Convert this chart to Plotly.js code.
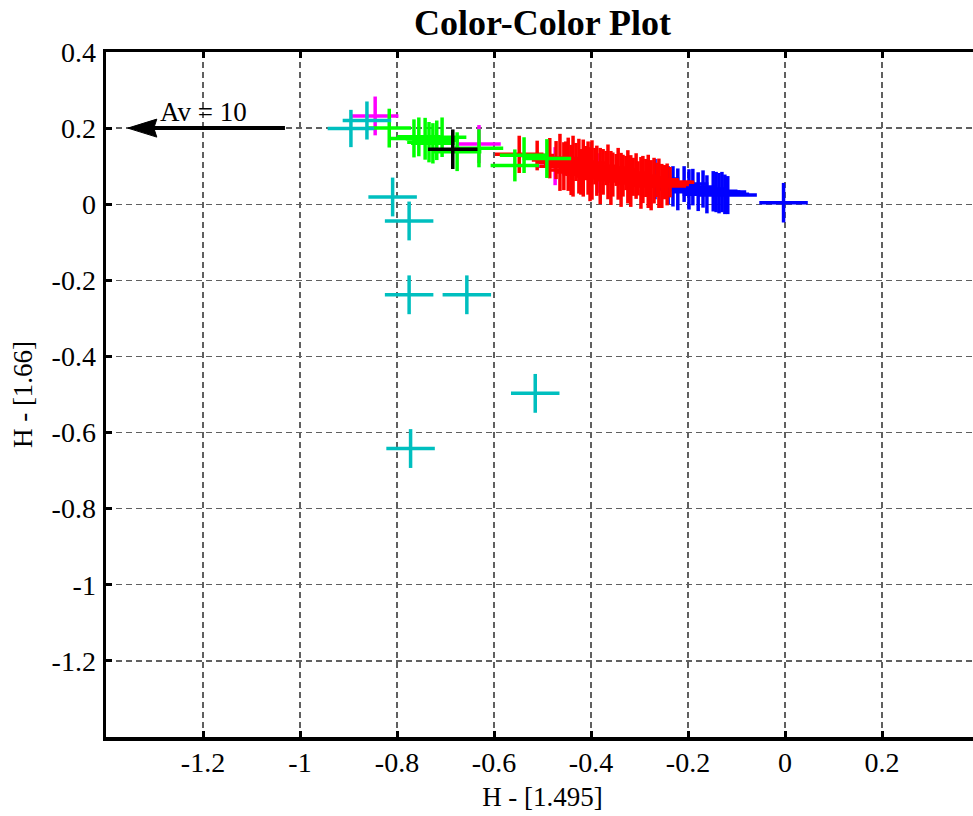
<!DOCTYPE html>
<html>
<head>
<meta charset="utf-8">
<script src="https://cdn.plot.ly/plotly-3.0.1.min.js"></script>
<style>
html, body { margin: 0; padding: 0; overflow: hidden; background: #fff; }
#chart { width: 990px; height: 816px; }
</style>
</head>
<body>
<div id="chart"></div>
<script>
// ---- data (x, y, x-error, y-error) ----
const blueX  = [-0.268, -0.241, -0.231, -0.221, -0.208, -0.198, -0.190, -0.179, -0.169, -0.161, -0.148, -0.142, -0.136, -0.130, -0.124, -0.118, -0.003];
const blueY  = [0.066, 0.050, 0.047, 0.039, 0.053, 0.039, 0.045, 0.033, 0.040, 0.026, 0.034, 0.032, 0.029, 0.032, 0.026, 0.024, 0.004];
const blueEx = [0.05, 0.05, 0.05, 0.05, 0.05, 0.05, 0.05, 0.05, 0.05, 0.05, 0.05, 0.05, 0.05, 0.05, 0.05, 0.06, 0.05];
const blueEy = [0.053, 0.050, 0.053, 0.055, 0.047, 0.053, 0.048, 0.051, 0.049, 0.050, 0.053, 0.053, 0.053, 0.053, 0.052, 0.050, 0.052];

const magentaX  = [-0.845, -0.631, -0.474, -0.420, -0.383];
const magentaY  = [0.232, 0.158, 0.100, 0.080, 0.082];
const magentaEx = [0.048, 0.045, 0.04, 0.04, 0.04];
const magentaEy = [0.051, 0.05, 0.05, 0.051, 0.052];

const redX  = [-0.548, -0.511, -0.485, -0.472, -0.464, -0.456, -0.452, -0.447, -0.441, -0.437, -0.431, -0.425,
               -0.421, -0.416, -0.410, -0.406, -0.402, -0.398, -0.392, -0.388, -0.381, -0.375, -0.369, -0.365,
               -0.359, -0.355, -0.348, -0.344, -0.338, -0.334, -0.328, -0.324, -0.318, -0.313, -0.307, -0.303,
               -0.297, -0.293, -0.287, -0.282, -0.276, -0.270, -0.264, -0.260, -0.254, -0.249, -0.243, -0.237];
const redY  = [0.131, 0.128, 0.121, 0.116, 0.110, 0.100, 0.120, 0.105, 0.090, 0.100, 0.111, 0.100,
               0.085, 0.095, 0.108, 0.095, 0.079, 0.090, 0.100, 0.088, 0.074, 0.085, 0.095, 0.085,
               0.069, 0.078, 0.090, 0.080, 0.064, 0.075, 0.082, 0.072, 0.061, 0.072, 0.074, 0.068,
               0.056, 0.065, 0.069, 0.060, 0.050, 0.062, 0.064, 0.055, 0.048, 0.058, 0.052, 0.058];
const redEx = [0.05, 0.035, 0.045, 0.05, 0.05, 0.05, 0.045, 0.05, 0.05, 0.05, 0.045, 0.05,
               0.05, 0.05, 0.045, 0.05, 0.05, 0.05, 0.045, 0.05, 0.05, 0.05, 0.045, 0.05,
               0.05, 0.05, 0.045, 0.05, 0.05, 0.05, 0.045, 0.05, 0.05, 0.05, 0.045, 0.05,
               0.05, 0.05, 0.045, 0.05, 0.05, 0.05, 0.045, 0.05, 0.05, 0.058, 0.045, 0.05];
const redEy = [0.049, 0.039, 0.053, 0.050, 0.075, 0.063, 0.045, 0.070, 0.066, 0.080, 0.050, 0.072,
               0.060, 0.075, 0.045, 0.070, 0.071, 0.078, 0.048, 0.066, 0.074, 0.060, 0.045, 0.072,
               0.071, 0.058, 0.042, 0.068, 0.071, 0.055, 0.045, 0.070, 0.068, 0.050, 0.060, 0.045,
               0.068, 0.062, 0.050, 0.070, 0.066, 0.060, 0.045, 0.065, 0.058, 0.045, 0.055, 0.040];

const greenX  = [-0.816, -0.765, -0.755, -0.742, -0.734, -0.726, -0.718, -0.707, -0.676, -0.631, -0.557, -0.538, -0.491];
const greenY  = [0.200, 0.173, 0.177, 0.172, 0.163, 0.160, 0.168, 0.176, 0.138, 0.147, 0.102, 0.129, 0.120];
const greenEx = [0.045, 0.05, 0.045, 0.04, 0.045, 0.045, 0.045, 0.05, 0.05, 0.05, 0.05, 0.05, 0.05];
const greenEy = [0.051, 0.05, 0.051, 0.055, 0.053, 0.053, 0.052, 0.052, 0.051, 0.05, 0.042, 0.047, 0.051];

const cyanX  = [-0.895, -0.862, -0.809, -0.775, -0.775, -0.656, -0.515, -0.772];
const cyanY  = [0.199, 0.220, 0.019, -0.044, -0.238, -0.238, -0.497, -0.642];
const cyanEx = [0.048, 0.05, 0.05, 0.05, 0.05, 0.05, 0.05, 0.05];
const cyanEy = [0.049, 0.05, 0.051, 0.051, 0.051, 0.051, 0.051, 0.051];

const blackX  = [-0.685];
const blackY  = [0.1445];
const blackEx = [0.051];
const blackEy = [0.052];

// tick values / labels
const xTickVals = [-1.2, -1, -0.8, -0.6, -0.4, -0.2, 0, 0.2];
const xTickText = ['-1.2', '-1', '-0.8', '-0.6', '-0.4', '-0.2', '0', '0.2'];
const yTickVals = [-1.2, -1, -0.8, -0.6, -0.4, -0.2, 0, 0.2, 0.4];
const yTickText = ['-1.2', '-1', '-0.8', '-0.6', '-0.4', '-0.2', '0', '0.2', '0.4'];

// reddening arrow (tail -> head) and its label
const arrowX = [-1.031, -1.355];
const arrowY = [0.2, 0.2];
const arrowLabel = 'Av = 10';
const arrowLabelPos = [-1.2, 0.243];

function crossTrace(x, y, ex, ey, color) {
  return {
    type: 'scatter', mode: 'markers', x: x, y: y,
    marker: { size: 2, color: color },
    error_x: { type: 'data', array: ex, symmetric: true, width: 0, thickness: 3.5, color: color },
    error_y: { type: 'data', array: ey, symmetric: true, width: 0, thickness: 3.5, color: color },
    hoverinfo: 'x+y', showlegend: false
  };
}

const data = [
  crossTrace(blueX, blueY, blueEx, blueEy, '#0000FF'),
  crossTrace(magentaX, magentaY, magentaEx, magentaEy, '#FF00FF'),
  crossTrace(redX, redY, redEx, redEy, '#FF0000'),
  crossTrace(greenX, greenY, greenEx, greenEy, '#00FF00'),
  crossTrace(cyanX, cyanY, cyanEx, cyanEy, '#00BFBF'),
  crossTrace(blackX, blackY, blackEx, blackEy, '#000000')
];

const serif = 'Liberation Serif, Times New Roman, serif';

const axisCommon = {
  ticks: 'inside', ticklen: 6, tickwidth: 3, tickcolor: '#000',
  showline: true, linewidth: 3.5, linecolor: '#000', mirror: 'ticks',
  showgrid: true, gridcolor: '#606060', gridwidth: 1.4, griddash: '6px,4px',
  zeroline: false, tickmode: 'array',
  tickfont: { family: serif, size: 28, color: '#000' }
};

const layout = {
  width: 990, height: 816,
  margin: { l: 106, r: 11, t: 52, b: 79 },
  paper_bgcolor: '#fff', plot_bgcolor: '#fff',
  showlegend: false,
  font: { family: serif, size: 27, color: '#000' },
  title: {
    text: 'Color-Color Plot',
    font: { family: serif, size: 36, color: '#000', weight: 'bold' },
    x: 0.5, xref: 'paper', xanchor: 'center',
    y: 1 - 22 / 816, yref: 'container', yanchor: 'middle'
  },
  xaxis: Object.assign({}, axisCommon, {
    range: [-1.4, 0.4], tickvals: xTickVals, ticktext: xTickText,
    ticklabelstandoff: -2,
    title: { text: 'H - [1.495]', font: { family: serif, size: 27, color: '#000' }, standoff: 11 }
  }),
  yaxis: Object.assign({}, axisCommon, {
    range: [-1.4, 0.4], tickvals: yTickVals, ticktext: yTickText,
    ticklabelstandoff: 1,
    title: { text: 'H - [1.66]', font: { family: serif, size: 27, color: '#000' }, standoff: 12 }
  }),
  shapes: [
    { type: 'line', xref: 'x', yref: 'y',
      x0: arrowX[0], y0: arrowY[0], x1: arrowX[1] + 0.04, y1: arrowY[1],
      line: { color: '#000', width: 4 } },
    { type: 'path', xref: 'x', yref: 'y',
      xsizemode: 'pixel', ysizemode: 'pixel',
      xanchor: arrowX[1], yanchor: arrowY[1],
      path: 'M0,0 L29,9 L26,0 L29,-9 Z',
      fillcolor: '#000', line: { color: '#000', width: 1 } }
  ],
  annotations: [
    { x: arrowLabelPos[0], y: arrowLabelPos[1], xref: 'x', yref: 'y',
      text: arrowLabel, showarrow: false,
      font: { family: serif, size: 27, color: '#000' } }
  ]
};

Plotly.newPlot('chart', data, layout, { displayModeBar: false, staticPlot: true });
</script>
</body>
</html>
